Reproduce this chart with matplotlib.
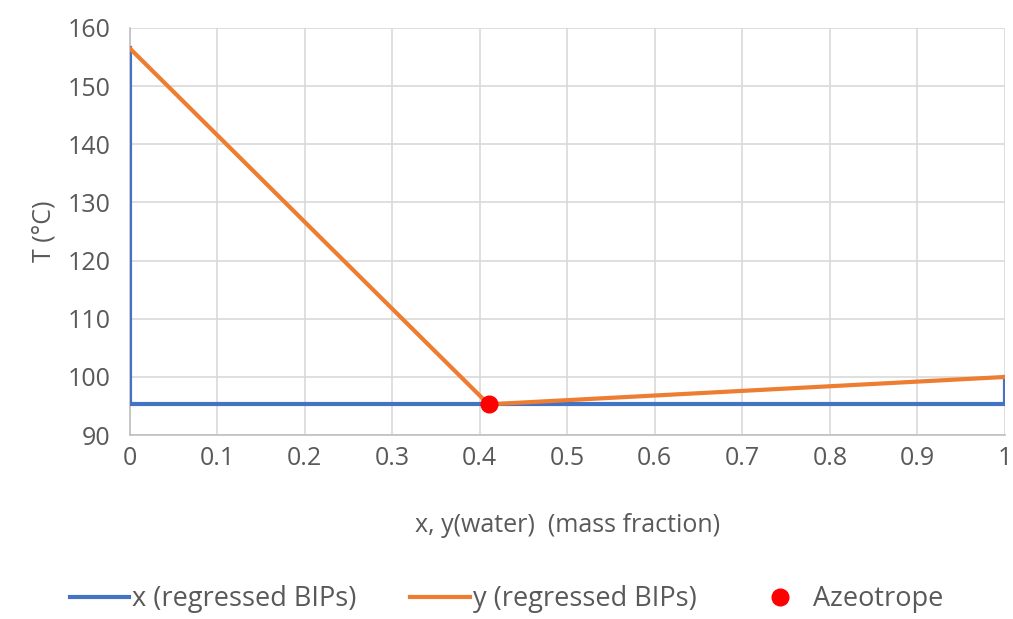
import matplotlib.pyplot as plt
from matplotlib.ticker import FuncFormatter

plt.rcParams['font.family'] = ['Open Sans', 'DejaVu Sans']

# liquid curve x and vapour curve y (water mass fraction), temperature in C
x_liq = [0, 0, 0.05, 0.41, 1, 1]
T_liq = [156.5, 95.3, 95.3, 95.3, 95.3, 100.0]
y_vap = [0, 0.41, 1]
T_vap = [156.5, 95.3, 100.0]
azeo_x = [0.41]
azeo_T = [95.3]

xticks = [0, 0.1, 0.2, 0.3, 0.4, 0.5, 0.6, 0.7, 0.8, 0.9, 1]
yticks = [90, 100, 110, 120, 130, 140, 150, 160]

gray = '#595959'
fs = 18

fig = plt.figure(figsize=(10.13, 6.19), dpi=100)
ax = fig.add_axes([0.128, 0.297, 0.864, 0.658])

ax.plot(x_liq, T_liq, color='#4472C4', lw=3, label='x (regressed BIPs)', zorder=3)
ax.plot(y_vap, T_vap, color='#ED7D31', lw=3, label='y (regressed BIPs)', zorder=4)
ax.plot(azeo_x, azeo_T, 'o', color='#FF0000', ms=12, label='Azeotrope', zorder=5)

ax.set_xlim(0, 1)
ax.set_ylim(90, 160)
ax.set_xticks(xticks)
ax.set_yticks(yticks)
ax.xaxis.set_major_formatter(FuncFormatter(lambda v, p: '%g' % v))
ax.grid(True, color='#d9d9d9', lw=1.2)
ax.set_axisbelow(True)
for s in ['top', 'right']:
    ax.spines[s].set_visible(False)
for s in ['left', 'bottom']:
    ax.spines[s].set_color('#bfbfbf')
    ax.spines[s].set_linewidth(1.2)
ax.tick_params(length=0, labelsize=fs, colors=gray)
ax.tick_params(axis='y', pad=14)
ax.tick_params(axis='x', pad=8)

ax.set_xlabel('x, y(water)  (mass fraction)', fontsize=fs, color=gray, labelpad=30)
ax.set_ylabel('T (°C)', fontsize=fs, color=gray, labelpad=8)

leg = fig.legend(loc='lower center', bbox_to_anchor=(0.5, -0.03), ncol=3,
                 frameon=False, fontsize=19.5, handlelength=2.2, handletextpad=0.1,
                 columnspacing=2.0, labelcolor=gray)

fig.savefig('out.png', dpi=100)
